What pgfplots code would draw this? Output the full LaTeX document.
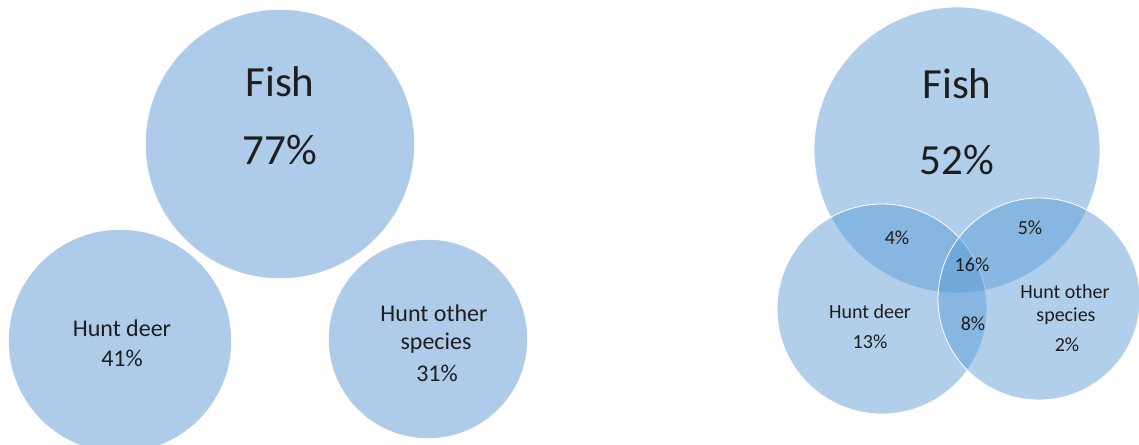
\documentclass[border=0pt]{standalone}
\usepackage{pgfplots}
\pgfplotsset{compat=1.18}
\usepackage{pgfplotstable}
\usepackage{fontspec}
\setmainfont{Carlito}

\definecolor{bubble}{HTML}{AECBEA}
\definecolor{venn}{HTML}{5B9BD5}
\definecolor{txt}{HTML}{1E1E1E}

% pixel coordinates of the circle centres and radii
\pgfplotstableread{
x y r
280 144 134
120 341 111
428 339 99
}\separate

\pgfplotstableread{
x y r
957 150 143
882 309 105
1039 299 101
}\overlap

\begin{document}
\begin{tikzpicture}
\begin{axis}[
    x=1pt, y=1pt,
    xmin=0, xmax=1139, ymin=0, ymax=444,
    y dir=reverse,
    hide axis,
    clip=true,
    clip marker paths=true,
    scale only axis,
    set layers,
]
\addplot[scatter, only marks, mark=*,
    scatter/use mapped color={draw=bubble, fill=bubble},
    visualization depends on={\thisrow{r} \as \rad},
    scatter/@pre marker code/.append style={/tikz/mark size=\rad}]
    table[x=x, y=y] {\separate};

\addplot[scatter, only marks, mark=*,
    scatter/use mapped color={draw=white, line width=0.8pt, fill=venn, fill opacity=0.48},
    visualization depends on={\thisrow{r} \as \rad},
    scatter/@pre marker code/.append style={/tikz/mark size=\rad}]
    table[x=x, y=y] {\overlap};

\begin{pgfonlayer}{axis foreground}
% left panel labels
\node[txt, font=\fontsize{43}{50}\selectfont] at (axis cs:280,82) {Fish};
\node[txt, font=\fontsize{43}{50}\selectfont] at (axis cs:280,150) {77\%};
\node[txt, font=\fontsize{24}{30}\selectfont] at (axis cs:122,328) {Hunt deer};
\node[txt, font=\fontsize{24}{30}\selectfont] at (axis cs:122,358) {41\%};
\node[txt, font=\fontsize{24}{30}\selectfont] at (axis cs:434,313) {Hunt other};
\node[txt, font=\fontsize{24}{30}\selectfont] at (axis cs:436,343) {species};
\node[txt, font=\fontsize{24}{30}\selectfont] at (axis cs:437,373) {31\%};

% right panel labels
\node[txt, font=\fontsize{43}{50}\selectfont] at (axis cs:957,84) {Fish};
\node[txt, font=\fontsize{43}{50}\selectfont] at (axis cs:957,160) {52\%};
\node[txt, font=\fontsize{20}{24}\selectfont] at (axis cs:897,238) {4\%};
\node[txt, font=\fontsize{20}{24}\selectfont] at (axis cs:1030,228) {5\%};
\node[txt, font=\fontsize{20}{24}\selectfont] at (axis cs:972,265) {16\%};
\node[txt, font=\fontsize{20}{24}\selectfont] at (axis cs:870,312) {Hunt deer};
\node[txt, font=\fontsize{20}{24}\selectfont] at (axis cs:870,342) {13\%};
\node[txt, font=\fontsize{20}{24}\selectfont] at (axis cs:973,324) {8\%};
\node[txt, font=\fontsize{20}{24}\selectfont] at (axis cs:1065,292) {Hunt other};
\node[txt, font=\fontsize{20}{24}\selectfont] at (axis cs:1066,316) {species};
\node[txt, font=\fontsize{20}{24}\selectfont] at (axis cs:1067,345) {2\%};
\end{pgfonlayer}
\end{axis}
\pgfresetboundingbox
\path (current axis.south west) rectangle (current axis.north east);
\end{tikzpicture}
\end{document}
